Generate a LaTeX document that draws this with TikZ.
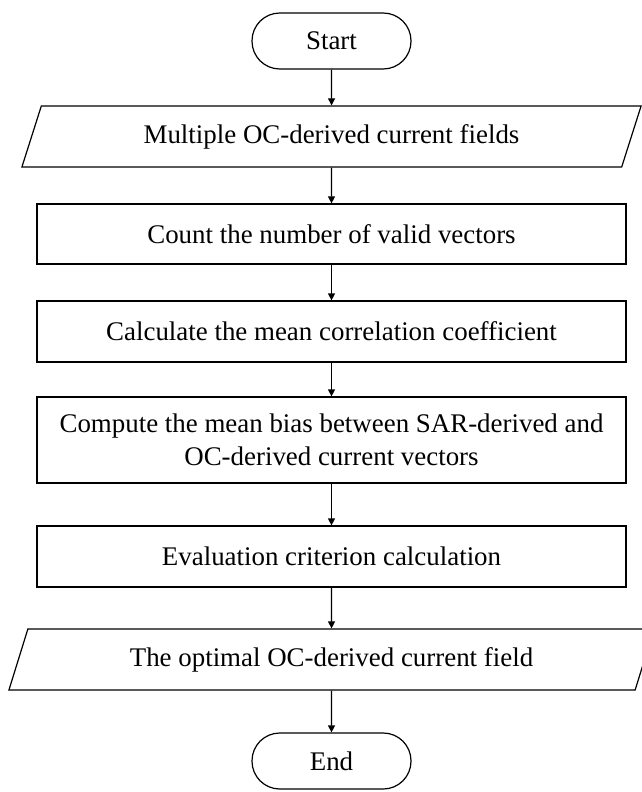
\documentclass[tikz,border=0pt]{standalone}
\usepackage{fontspec}
\setmainfont{Liberation Serif}
\usetikzlibrary{shapes.geometric,arrows.meta}

\begin{document}
\begin{tikzpicture}[x=.5pt,y=-.5pt,line width=.6pt,
  every node/.style={font=\fontsize{13.45}{16.5}\selectfont,align=center,inner sep=0pt},
  term/.style={draw,rectangle,rounded corners=13.9pt,minimum width=79.5pt,minimum height=28pt},
  proc/.style={draw,rectangle,minimum width=294.5pt,minimum height=30.5pt},
  io/.style={draw,trapezium,trapezium left angle=63,trapezium right angle=117,
    trapezium stretches=true,minimum height=30.5pt},
  flow/.style={-{Triangle[length=3.5pt,width=3.5pt]}}]
\useasboundingbox (0,0) rectangle (642,792);
\node[term] (start) at (331.5,41) {Start};
\node[io,minimum width=310.5pt] (fields) at (331.5,136.5) {Multiple OC-derived current fields};
\node[proc,minimum height=30pt] (count) at (331.5,234) {Count the number of valid vectors};
\node[proc] (corr) at (331.5,331.5) {Calculate the mean correlation coefficient};
\node[proc,minimum height=43pt] (bias) at (331.5,440) {Compute the mean bias between SAR-derived and\\OC-derived current vectors};
\node[proc] (crit) at (331.5,556.5) {Evaluation criterion calculation};
\node[io,minimum width=323.5pt] (best) at (331.5,659.5) {The optimal OC-derived current field};
\node[term] (end) at (331.5,761) {End};
\foreach \a/\b in {start/fields,fields/count,count/corr,corr/bias,bias/crit,crit/best,best/end}
  \draw[flow] (\a) -- (\b);
\end{tikzpicture}
\end{document}
